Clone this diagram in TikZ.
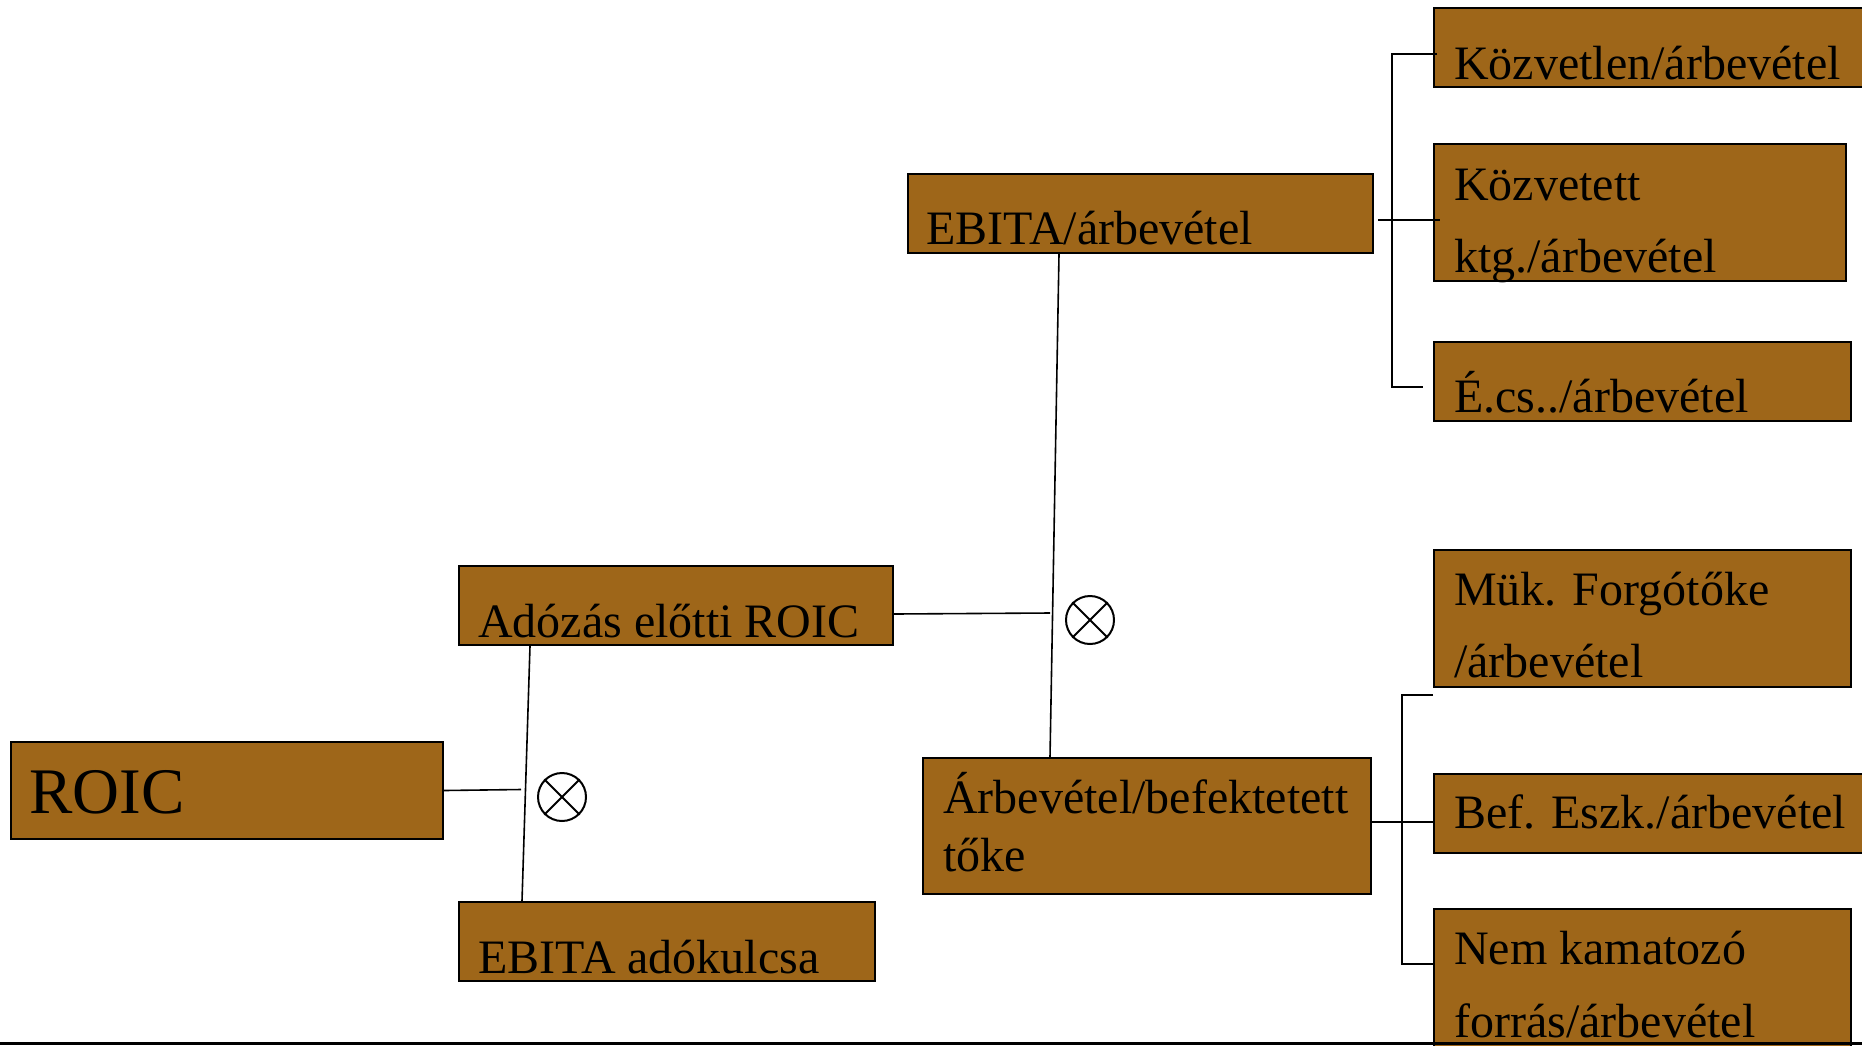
\documentclass[tikz,border=0pt]{standalone}
\usepackage{fontspec}
\setmainfont{Liberation Serif}
\definecolor{boxbrown}{RGB}{158,102,25}
\begin{document}
\begin{tikzpicture}[x=1pt,y=-1pt,
  box/.style 2 args={draw=black, line width=2pt, fill=boxbrown, inner sep=0pt,
    anchor=north west, minimum width=#1, minimum height=#2},
  lbl/.style={inner sep=0pt, anchor=base west, font=\fontsize{48}{58}\selectfont},
  biglbl/.style={inner sep=0pt, anchor=base west, font=\fontsize{65}{65}\selectfont},
  link/.style={draw=black, line width=1.6pt},
  mult/.style={circle, draw=black, line width=2pt, minimum size=48pt, inner sep=0pt}]
\clip (0,0) rectangle (1862,1045);

% boxes
\node[box={432.5pt}{97pt}] (roic) at (9.5,741) {};
\node[box={434pt}{79pt}] (adozas) at (458,565) {};
\node[box={416pt}{79pt}] (ebitaado) at (458,901) {};
\node[box={465pt}{79pt}] (ebitaarb) at (907,173) {};
\node[box={448pt}{136pt}] (arbbef) at (922,757) {};
\node[box={447pt}{79pt}] (kozvetlen) at (1433,7) {};
\node[box={412pt}{137pt}] (kozvetett) at (1433,143) {};
\node[box={417pt}{79pt}] (ecs) at (1433,341) {};
\node[box={417pt}{137pt}] (muk) at (1433,549) {};
\node[box={447pt}{79pt}] (bef) at (1433,773) {};
\node[box={417pt}{152pt}] (nem) at (1433,908) {};

% labels
\node[biglbl] (t-roic) at (29,813) {ROIC};
\node[lbl] (t-adozas) at (478,637) {Adózás előtti ROIC};
\node[lbl] (t-ebitaado) at (478,973) {EBITA adókulcsa};
\node[lbl] (t-ebitaarb) at (926,244) {EBITA/árbevétel};
\node[lbl] (t-arbbef1) at (943,813) {Árbevétel/befektetett};
\node[lbl] (t-arbbef2) at (943,871) {tőke};
\node[lbl] (t-kozvetlen) at (1454,79) {Közvetlen/árbevétel};
\node[lbl] (t-kozvetett1) at (1454,200) {Közvetett};
\node[lbl] (t-kozvetett2) at (1454,272) {ktg./árbevétel};
\node[lbl] (t-ecs) at (1454,412) {É.cs../árbevétel};
\node[lbl] (t-muk1) at (1454,605) {Mük. Forgótőke};
\node[lbl] (t-muk2) at (1454,677) {/árbevétel};
\node[lbl] (t-bef) at (1454,828) {Bef. Eszk./árbevétel};
\node[lbl] (t-nem1) at (1454,964) {Nem kamatozó};
\node[lbl] (t-nem2) at (1454,1037) {forrás/árbevétel};

% multiplication signs
\node[mult] (mul1) at (562,797) {};
\node[mult] (mul2) at (1090,620) {};
\foreach \m in {mul1,mul2}
  \draw[line width=2pt] (\m.north west) -- (\m.south east)
                        (\m.north east) -- (\m.south west);

% ROIC = pre-tax ROIC x tax rate
\coordinate (j1) at (521,789.5);
\draw[link] (roic.east) -- (j1);
\draw[link] ([xshift=72pt]adozas.south west) -- ([xshift=64pt]ebitaado.north west);

% pre-tax ROIC = margin x turnover
\coordinate (j2) at (1050,613);
\draw[link] ([yshift=-8.5pt]adozas.east) -- (j2);
\draw[link] ([xshift=152pt]ebitaarb.south west) -- ([xshift=128pt]arbbef.north west);

% margin drivers
\draw[link] ([xshift=4pt,yshift=-6.5pt]kozvetlen.west) -- ++(-45,0)
            |- ([xshift=-10pt,yshift=-5.5pt]ecs.west);
\draw[link] ([xshift=4pt,yshift=-6.5pt]ebitaarb.east) -- ([xshift=7pt,yshift=-7.5pt]kozvetett.west);

% capital turnover drivers
\draw[link] ([yshift=-7pt]muk.south west) -- ++(-31,0)
            |- ([yshift=-56pt]nem.north west);
\draw[link] ([yshift=4pt]arbbef.east) -- ([yshift=4pt]arbbef.east -| bef.west);

% bottom rule
\draw[line width=3pt] (0,1043.5) -- (1862,1043.5);
\end{tikzpicture}
\end{document}
